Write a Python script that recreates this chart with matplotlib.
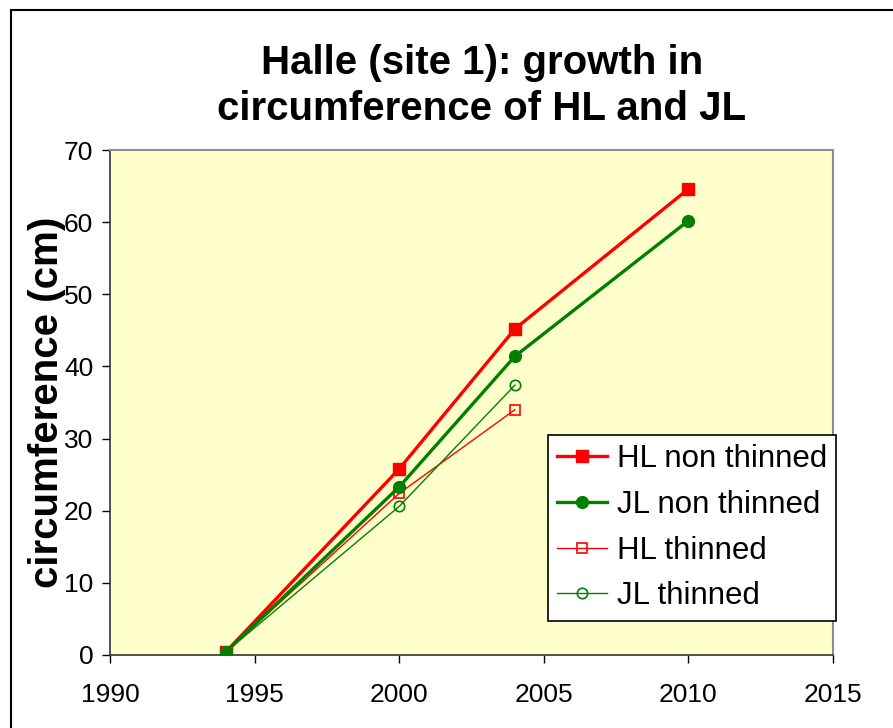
import matplotlib.pyplot as plt
from matplotlib.patches import Rectangle

plt.rcParams['font.family'] = ['Liberation Sans', 'DejaVu Sans']

years_full = [1994, 2000, 2004, 2010]
years_thin = [1994, 2000, 2004]
hl_non = [0.4, 25.8, 45.2, 64.6]
jl_non = [0.4, 23.3, 41.4, 60.2]
hl_thin = [0.4, 22.4, 34.0]
jl_thin = [0.4, 20.6, 37.4]

xticks = [1990, 1995, 2000, 2005, 2010, 2015]
yticks = [0, 10, 20, 30, 40, 50, 60, 70]

W, H = 893, 728
fig = plt.figure(figsize=(W / 100, H / 100), dpi=100)
ax = fig.add_axes([110 / W, 1 - 655 / H, (833 - 110) / W, (655 - 150) / H])
ax.set_facecolor('#FFFFCC')

# rand des diagramms
fig.patches.append(Rectangle((11 / W, -0.1), 1.2, 1 - 10 / H + 0.1,
                             transform=fig.transFigure, fill=False,
                             edgecolor='black', linewidth=1.5))

ax.plot(years_full, hl_non, color='#FF0000', lw=2.4, marker='s', ms=8.5,
        label='HL non thinned', zorder=4)
ax.plot(years_full, jl_non, color='#008000', lw=2.4, marker='o', ms=8.5,
        label='JL non thinned', zorder=4)
ax.plot(years_thin, hl_thin, color='#FF0000', lw=1.0, marker='s', ms=7.5,
        mfc='none', mew=1.2, label='HL thinned', zorder=3)
ax.plot(years_thin, jl_thin, color='#008000', lw=1.0, marker='o', ms=7.5,
        mfc='none', mew=1.2, label='JL thinned', zorder=3)

ax.set_xlim(1990, 2015)
ax.set_ylim(0, 70)
ax.set_xticks(xticks)
ax.set_yticks(yticks)
ax.tick_params(axis='both', direction='out', length=6, width=1,
               labelsize=19, colors='black')
ax.tick_params(axis='x', pad=14)
ax.tick_params(axis='y', pad=6)
for s in ['top', 'right']:
    ax.spines[s].set_color('#909090')
    ax.spines[s].set_linewidth(1.5)
for s in ['left', 'bottom']:
    ax.spines[s].set_color('#333333')
    ax.spines[s].set_linewidth(1.2)

ax.set_ylabel('circumference (cm)', fontsize=29, fontweight='bold')
ax.yaxis.set_label_coords(-44 / (833 - 110), 0.5)

fig.text(482 / W, 1 - 86 / H, 'Halle (site 1): growth in\ncircumference of HL and JL',
         ha='center', va='center', fontsize=29, fontweight='bold',
         linespacing=1.3)

leg = ax.legend(loc='upper left', bbox_to_anchor=((548 - 110) / (833 - 110), (655 - 435) / (655 - 150)),
                fontsize=22.5, frameon=True, fancybox=False, framealpha=1,
                edgecolor='black', borderpad=0.3, labelspacing=0.5,
                handlelength=1.6, handletextpad=0.3, borderaxespad=0)
leg.get_frame().set_linewidth(1.2)

fig.savefig('out.png', dpi=100)
